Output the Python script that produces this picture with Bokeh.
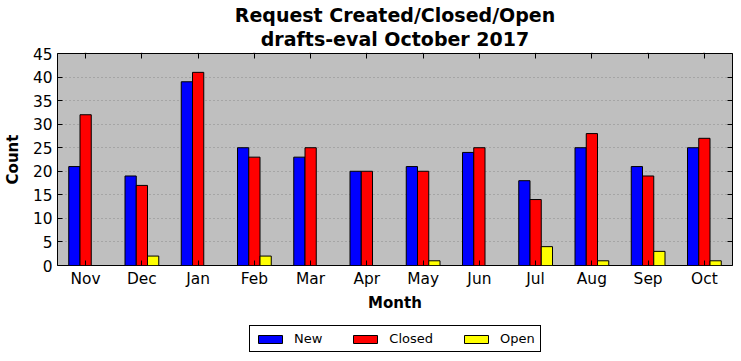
from bokeh.plotting import figure
from bokeh.layouts import column
from bokeh.models import (ColumnDataSource, FactorRange, Range1d, FixedTicker, Legend,
                          LegendItem, Title, LinearAxis, CategoricalAxis)
from bokeh.transform import dodge
from bokeh.embed import file_html
from bokeh.resources import INLINE

months = ["Nov", "Dec", "Jan", "Feb", "Mar", "Apr", "May", "Jun", "Jul", "Aug", "Sep", "Oct"]
new_counts = [21, 19, 39, 25, 23, 20, 21, 24, 18, 25, 21, 25]
closed_counts = [32, 17, 41, 23, 25, 20, 20, 25, 14, 28, 19, 27]
open_counts = [0, 2, 0, 2, 0, 0, 1, 0, 4, 1, 3, 1]
y_ticks = [0, 5, 10, 15, 20, 25, 30, 35, 40, 45]
series = [("New", "new", "blue", -0.2), ("Closed", "closed", "red", 0.0), ("Open", "open", "yellow", 0.2)]

FONT = "DejaVu Sans"
BAR_W = 0.2

src = ColumnDataSource(dict(month=months, new=new_counts, closed=closed_counts, open=open_counts))

p = figure(frame_width=675, frame_height=212, x_range=FactorRange(*months), y_range=Range1d(0, 45),
           output_backend="svg", toolbar_location=None, title=None,
           min_border_left=49, min_border_right=1, min_border_top=0, min_border_bottom=48,
           x_axis_location=None, y_axis_location=None, margin=(1, 0, 0, 0))

p.background_fill_color = "#bfbfbf"
p.border_fill_color = "white"
p.outline_line_color = "black"
p.outline_line_width = 1
p.outline_line_alpha = 1

for name, col, color, off in series:
    p.vbar(x=dodge("month", off, range=p.x_range), top=col, width=BAR_W, source=src,
           fill_color=color, line_color="black", line_width=1)

def style_axis(ax):
    ax.axis_line_color = None
    ax.major_tick_in = 5
    ax.major_tick_out = 0
    ax.major_tick_line_color = "black"
    ax.minor_tick_line_color = None
    ax.major_label_text_font = FONT
    ax.major_label_text_color = "black"
    ax.major_label_text_font_size = "15.4px"
    ax.axis_label_text_font = FONT
    ax.axis_label_text_font_style = "bold"
    ax.axis_label_text_font_size = "15px"
    ax.axis_label_text_color = "black"

xb = CategoricalAxis(axis_label="Month")
style_axis(xb)
xb.major_label_standoff = 4
xb.axis_label_standoff = 3
p.add_layout(xb, "below")

yl = LinearAxis(axis_label="Count", ticker=FixedTicker(ticks=y_ticks))
style_axis(yl)
yl.major_label_standoff = 5
yl.axis_label_standoff = 8
p.add_layout(yl, "left")

# tick marks only (no labels) on the top and right edges
xt = CategoricalAxis(major_label_overrides={m: "" for m in months})
style_axis(xt)
xt.major_label_standoff = 0
xt.major_label_text_font_size = "1px"
p.add_layout(xt, "above")

yr = LinearAxis(ticker=FixedTicker(ticks=y_ticks), major_label_overrides={t: "" for t in y_ticks})
style_axis(yr)
yr.major_label_standoff = 0
yr.major_label_text_font_size = "1px"
p.add_layout(yr, "right")

p.xgrid.grid_line_color = None
p.ygrid.ticker = FixedTicker(ticks=y_ticks)
p.ygrid.grid_line_color = "black"
p.ygrid.grid_line_alpha = 0.45
p.ygrid.grid_line_width = 0.6
p.ygrid.grid_line_dash = "1 3"

p.add_layout(Title(text="drafts-eval October 2017", align="center", text_font=FONT,
                   text_font_size="19px", text_font_style="bold", text_color="black",
                   standoff=0), "above")
p.add_layout(Title(text="Request Created/Closed/Open", align="center", text_font=FONT,
                   text_font_size="19px", text_font_style="bold", text_color="black",
                   standoff=0), "above")

# legend strip below the chart
lf = figure(width=725, height=38, x_range=FactorRange(*months), y_range=Range1d(100, 101),
            output_backend="svg", toolbar_location=None, title=None,
            min_border_left=49, min_border_right=1, min_border_top=0, min_border_bottom=0,
            x_axis_location=None, y_axis_location=None)
lf.outline_line_color = None
lf.background_fill_color = "white"
lf.border_fill_color = "white"
lf.xgrid.visible = False
lf.ygrid.visible = False

items = []
for name, col, color, off in series:
    r = lf.vbar(x=dodge("month", off, range=lf.x_range), top=col, width=BAR_W, source=src,
                fill_color=color, line_color="black", line_width=1, visible=False)
    items.append(LegendItem(label=name, renderers=[r]))

legend = Legend(items=items, orientation="horizontal", location=(192, 0))
legend.label_text_font = FONT
legend.label_text_font_size = "13px"
legend.label_text_color = "black"
legend.glyph_width = 30
legend.glyph_height = 10
legend.label_standoff = 9
legend.spacing = 28
legend.padding = 5
legend.label_height = 14
legend.border_line_color = "black"
legend.border_line_width = 1
legend.border_line_alpha = 1
legend.background_fill_color = "white"
legend.background_fill_alpha = 1
legend.inactive_fill_alpha = 0
legend.margin = 0
lf.add_layout(legend, "center")

layout = column(p, lf, spacing=0)
open("out.html", "w").write(file_html(layout, INLINE))
